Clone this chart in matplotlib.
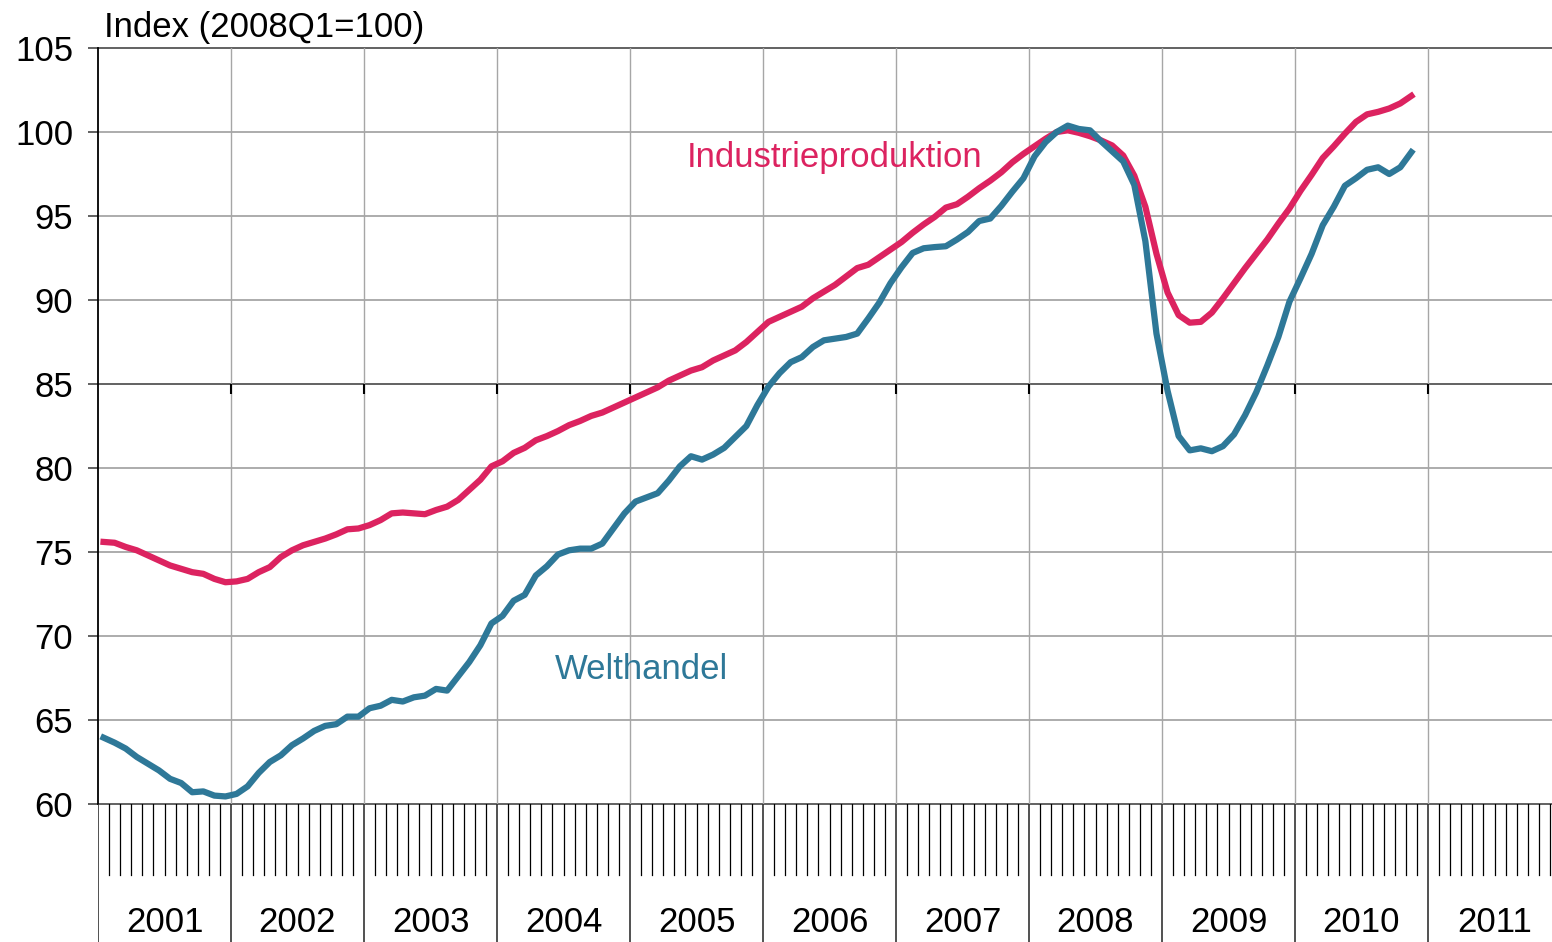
import numpy as np
import matplotlib
matplotlib.use("Agg")
import matplotlib.pyplot as plt

plt.rcParams['font.family'] = ['Liberation Sans', 'DejaVu Sans']

# monthly values, Jan 2001 .. Nov 2010 (index 2008Q1 = 100)
industrie = [75.6, 75.55, 75.3, 75.1, 74.8, 74.5, 74.2, 74.0, 73.8, 73.7, 73.4, 73.2,
             73.25, 73.4, 73.8, 74.1, 74.7, 75.1, 75.4, 75.6, 75.8, 76.05, 76.35, 76.4,
             76.6, 76.9, 77.3, 77.35, 77.3, 77.25, 77.5, 77.7, 78.1, 78.7, 79.3, 80.1,
             80.4, 80.9, 81.2, 81.65, 81.9, 82.2, 82.55, 82.8, 83.1, 83.3, 83.6, 83.9,
             84.2, 84.5, 84.8, 85.2, 85.5, 85.8, 86.0, 86.4, 86.7, 87.0, 87.5, 88.1,
             88.7, 89.0, 89.3, 89.6, 90.1, 90.5, 90.9, 91.4, 91.9, 92.1, 92.55, 93.0,
             93.45, 94.0, 94.5, 94.95, 95.5, 95.7, 96.15, 96.65, 97.1, 97.6, 98.2, 98.7,
             99.15, 99.6, 100.0, 100.1, 99.95, 99.75, 99.5, 99.2, 98.6, 97.4, 95.55, 92.75,
             90.45, 89.1, 88.65, 88.7, 89.25, 90.1, 91.0, 91.9, 92.75, 93.6, 94.55, 95.45,
             96.5, 97.45, 98.45, 99.15, 99.9, 100.6, 101.05, 101.2, 101.4, 101.7, 102.15]

welthandel = [63.95, 63.65, 63.3, 62.8, 62.4, 62.0, 61.5, 61.25, 60.7, 60.75, 60.5, 60.45,
              60.6, 61.05, 61.85, 62.5, 62.9, 63.5, 63.9, 64.35, 64.65, 64.75, 65.2, 65.2,
              65.7, 65.85, 66.2, 66.1, 66.35, 66.45, 66.85, 66.75, 67.6, 68.45, 69.45, 70.75,
              71.2, 72.1, 72.45, 73.6, 74.15, 74.85, 75.1, 75.2, 75.2, 75.5, 76.4, 77.3,
              78.0, 78.25, 78.5, 79.25, 80.1, 80.7, 80.5, 80.8, 81.2, 81.85, 82.5, 83.75,
              84.85, 85.65, 86.3, 86.6, 87.2, 87.6, 87.7, 87.8, 88.0, 88.9, 89.85, 91.0,
              91.95, 92.8, 93.08, 93.15, 93.2, 93.6, 94.05, 94.7, 94.85, 95.6, 96.45, 97.25,
              98.55, 99.4, 100.0, 100.38, 100.18, 100.1, 99.45, 98.85, 98.25, 96.85, 93.5, 88.0,
              84.6, 81.9, 81.05, 81.17, 81.0, 81.3, 82.0, 83.15, 84.5, 86.1, 87.8, 89.9,
              91.3, 92.75, 94.45, 95.55, 96.8, 97.25, 97.75, 97.9, 97.5, 97.9, 98.8]

years = [str(y) for y in range(2001, 2012)]
yticks = [60, 65, 70, 75, 80, 85, 90, 95, 100, 105]

pink = '#dc2360'
blue = '#2e7898'
grid_c = '#a6a6a6'
dark_c = '#555555'
fs = 25

W, H = 1552, 942
fig = plt.figure(figsize=(W / 100, H / 100), dpi=100)
ax = fig.add_axes([98 / W, 138 / H, 1463 / W, 756 / H])
band = fig.add_axes([98 / W, 0, 1463 / W, 138 / H])

n_months = 12 * len(years)
ax.set_xlim(0, n_months)
ax.set_ylim(60, 105)

# grid
for v in yticks:
    if v in (60, 85, 105):
        ax.axhline(v, color=dark_c, lw=1.3, zorder=1, clip_on=False)
    else:
        ax.axhline(v, color=grid_c, lw=1.3, zorder=1)
for k in range(1, len(years)):
    ax.axvline(12 * k, color=grid_c, lw=1.0, zorder=1)
    # small marks under the 85 line
    ax.vlines(12 * k, 85 - 10 / 16.8, 85, color='black', lw=1.5, zorder=1)

x = np.arange(len(industrie)) + 0.5
ax.plot(x, industrie, color=pink, lw=4.5, zorder=3, solid_joinstyle='round')
ax.plot(x, welthandel, color=blue, lw=4.5, zorder=4, solid_joinstyle='round')

ax.text(53.1, 98.5, 'Industrieproduktion', color=pink, fontsize=fs,
        ha='left', va='center')
ax.text(41.2, 68.0, 'Welthandel', color=blue, fontsize=fs,
        ha='left', va='center')

for s in ['top', 'right', 'bottom']:
    ax.spines[s].set_visible(False)
ax.spines['left'].set_color('black')
ax.spines['left'].set_linewidth(1.3)
ax.set_xticks([])
ax.set_yticks(yticks)
ax.set_yticklabels([str(v) for v in yticks], fontsize=fs)
ax.tick_params(axis='y', length=7, width=1.3, color=dark_c, pad=11)

fig.text(104 / W, 1 - 27 / H, 'Index (2008Q1=100)', fontsize=fs,
         ha='left', va='center')

# month / year band below the plot
band.set_xlim(0, n_months)
band.set_ylim(0, 1)
band.axis('off')
tick_bottom = (942 - 875) / 138
for m in range(n_months + 1):
    if m % 12 == 0:
        band.axvline(m, ymin=0, ymax=1, color='#333333', lw=1.2)
    else:
        band.axvline(m, ymin=tick_bottom, ymax=1, color='black', lw=0.9)
for k, yr in enumerate(years):
    band.text(12 * k + 6, (942 - 923) / 138, yr, fontsize=fs,
              ha='center', va='center')

fig.savefig('out.png', dpi=100)
